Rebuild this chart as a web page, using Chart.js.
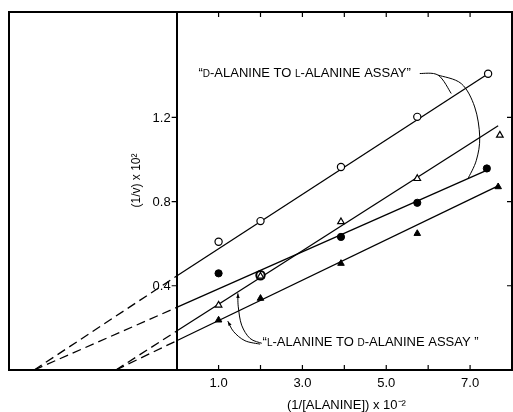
<!DOCTYPE html>
<html>
<head>
<meta charset="utf-8">
<script src="https://cdn.jsdelivr.net/npm/chart.js@4"></script>
<style>
  html, body { margin: 0; padding: 0; background: #fff; }
  canvas { display: block; }
</style>
</head>
<body>
<canvas id="chart" width="513" height="412"></canvas>
<script>
// measured points, x = 1/[alanine] x 10^-2, y = 1/v x 10^2
const openCircleX = [1.0, 2.0, 3.92, 5.74, 7.43];
const openCircleY = [0.609, 0.707, 0.964, 1.202, 1.407];
const filledCircleX = [1.0, 2.0, 3.92, 5.74, 7.40];
const filledCircleY = [0.459, 0.45, 0.632, 0.794, 0.957];
const openTriangleX = [1.0, 2.0, 3.92, 5.74, 7.71];
const openTriangleY = [0.308, 0.445, 0.704, 0.909, 1.115];
const filledTriangleX = [1.0, 2.0, 3.92, 5.74, 7.67];
const filledTriangleY = [0.237, 0.34, 0.506, 0.648, 0.870];

// fitted lines: x intercept (dashed part), y intercept, end of solid part
const fitXIntercept = [-3.4, -3.4, -1.45, -1.45];
const fitYIntercept = [0.446, 0.297, 0.185, 0.139];
const fitEndX = [7.43, 7.42, 7.67, 7.67];
const fitEndY = [1.407, 0.95, 1.16, 0.874];

const xTicks = [1, 2, 3, 4, 5, 6, 7];
const xLabelTicks = [1, 3, 5, 7];
const yTicks = [0.4, 0.8, 1.2];

const pts = (xs, ys) => xs.map((x, i) => ({ x: x, y: ys[i] }));

const font = "'Liberation Sans', Arial, sans-serif";

const fitLines = [];
fitXIntercept.forEach((x0, i) => {
  fitLines.push({
    type: "line",
    data: [{ x: x0, y: 0 }, { x: 0, y: fitYIntercept[i] }],
    borderColor: "#000",
    borderWidth: 1.3,
    borderDash: [9, 5],
    pointRadius: 0,
    showLine: true,
    order: 5,
  });
  fitLines.push({
    type: "line",
    data: [{ x: 0, y: fitYIntercept[i] }, { x: fitEndX[i], y: fitEndY[i] }],
    borderColor: "#000",
    borderWidth: 1.3,
    pointRadius: 0,
    showLine: true,
    order: 5,
  });
});

// the curved pointers and the two captions, in data units
const topCurves = [
  [[5.80, 1.408], [6.24, 1.40], [6.55, 1.313]],
  [[6.24, 1.40], [6.79, 1.36], [7.11, 1.249], [7.23, 1.107], [7.15, 0.996], [6.95, 0.909]],
];
const bottomCurves = [
  [[2.03, 0.127], [1.75, 0.15], [1.55, 0.213], [1.47, 0.30], [1.46, 0.364]],
  [[1.99, 0.123], [1.63, 0.139], [1.36, 0.182], [1.22, 0.232]],
];

const drawCaption = (ctx, x, y, parts) => {
  ctx.textBaseline = "middle";
  ctx.textAlign = "left";
  parts.forEach(([txt, size]) => {
    ctx.font = size + "px " + font;
    ctx.fillText(txt, x, y + (size < 13 ? 1 : 0));
    x += ctx.measureText(txt).width;
  });
};

const drawSpline = (ctx, p) => {
  ctx.beginPath();
  ctx.moveTo(p[0][0], p[0][1]);
  for (let i = 0; i < p.length - 1; i++) {
    const p0 = p[i - 1] || p[i];
    const p1 = p[i];
    const p2 = p[i + 1];
    const p3 = p[i + 2] || p2;
    ctx.bezierCurveTo(
      p1[0] + (p2[0] - p0[0]) / 6, p1[1] + (p2[1] - p0[1]) / 6,
      p2[0] - (p3[0] - p1[0]) / 6, p2[1] - (p3[1] - p1[1]) / 6,
      p2[0], p2[1]
    );
  }
  ctx.stroke();
};

const framePlugin = {
  id: "frame",
  afterDraw(chart) {
    const { ctx, chartArea: a, scales } = chart;
    const X = (v) => scales.x.getPixelForValue(v);
    const Y = (v) => scales.y.getPixelForValue(v);
    ctx.save();
    ctx.strokeStyle = "#000";
    ctx.fillStyle = "#000";
    ctx.lineWidth = 2;
    ctx.beginPath();
    ctx.moveTo(a.left, a.bottom);
    ctx.lineTo(a.left, a.top);
    ctx.lineTo(a.right, a.top);
    ctx.lineTo(a.right, a.bottom);
    ctx.stroke();

    // inward ticks
    ctx.lineWidth = 1.2;
    ctx.beginPath();
    xTicks.forEach((v) => {
      ctx.moveTo(X(v), a.bottom);
      ctx.lineTo(X(v), a.bottom - 5);
      ctx.moveTo(X(v), a.top);
      ctx.lineTo(X(v), a.top + 5);
    });
    yTicks.forEach((v) => {
      ctx.moveTo(a.right, Y(v));
      ctx.lineTo(a.right - 5, Y(v));
      ctx.moveTo(X(0), Y(v));
      ctx.lineTo(X(0) - 5, Y(v));
    });
    ctx.stroke();

    // y tick labels, left of the axis at x = 0
    ctx.font = "13px " + font;
    ctx.textAlign = "right";
    ctx.textBaseline = "middle";
    yTicks.forEach((v) => ctx.fillText(v.toFixed(1), X(0) - 6, Y(v) + 1));

    // x axis title, under the positive part of the axis
    ctx.textAlign = "center";
    ctx.fillText("(1/[ALANINE]) x 10\u207B\u00B2", X(4.05), a.bottom + 35);

    // y axis title, rotated
    ctx.save();
    ctx.translate(X(-0.95), Y(0.9));
    ctx.rotate(-Math.PI / 2);
    ctx.font = "12px " + font;
    ctx.textAlign = "center";
    ctx.textBaseline = "middle";
    ctx.fillText("(1/v) x 10\u00B2", 0, 0);
    ctx.restore();

    // captions
    drawCaption(ctx, X(0.52), Y(1.41), [
      ["\u201C", 13], ["D", 10], ["-ALANINE TO ", 13], ["L", 10], ["-ALANINE ASSAY\u201D", 13],
    ]);
    drawCaption(ctx, X(2.05), Y(0.133), [
      ["\u201C", 13], ["L", 10], ["-ALANINE TO ", 13], ["D", 10], ["-ALANINE ASSAY \u201D", 13],
    ]);

    ctx.lineWidth = 1;
    const toPx = (c) => c.map(([x, y]) => [X(x), Y(y)]);
    topCurves.forEach((c) => drawSpline(ctx, toPx(c)));
    bottomCurves.forEach((c) => {
      const p = toPx(c);
      drawSpline(ctx, p);
      const [ex, ey] = p[p.length - 1];
      const [px, py] = p[p.length - 2];
      const ang = Math.atan2(ey - py, ex - px);
      ctx.beginPath();
      ctx.moveTo(ex, ey);
      ctx.lineTo(ex - 5 * Math.cos(ang - 0.35), ey - 5 * Math.sin(ang - 0.35));
      ctx.lineTo(ex - 5 * Math.cos(ang + 0.35), ey - 5 * Math.sin(ang + 0.35));
      ctx.closePath();
      ctx.fill();
    });
    ctx.restore();
  },
};

new Chart(document.getElementById("chart"), {
  type: "scatter",
  data: {
    datasets: [
      {
        label: "open triangles",
        data: pts(openTriangleX, openTriangleY),
        pointStyle: "triangle",
        pointRadius: 3.8,
        pointBackgroundColor: "#fff",
        pointBorderColor: "#000",
        pointBorderWidth: 1.2,
        order: 1,
      },
      {
        label: "filled triangles",
        data: pts(filledTriangleX, filledTriangleY),
        pointStyle: "triangle",
        pointRadius: 3.8,
        pointBackgroundColor: "#000",
        pointBorderColor: "#000",
        pointBorderWidth: 1,
        order: 1,
      },
      {
        label: "open circles",
        data: pts(openCircleX, openCircleY),
        pointStyle: "circle",
        pointRadius: 3.6,
        pointBackgroundColor: "#fff",
        pointBorderColor: "#000",
        pointBorderWidth: 1.2,
        order: 1,
      },
      {
        label: "filled circles",
        data: pts(filledCircleX, filledCircleY),
        pointStyle: "circle",
        pointRadius: [3.6, 4.2, 3.6, 3.6, 3.6],
        pointBackgroundColor: ["#000", "#fff", "#000", "#000", "#000"],
        pointBorderColor: "#000",
        pointBorderWidth: [1, 2, 1, 1, 1],
        order: 2,
      },
      ...fitLines,
    ],
  },
  options: {
    responsive: false,
    animation: false,
    layout: { autoPadding: false, padding: { left: 9, right: 1, top: 12, bottom: 0 } },
    plugins: { legend: { display: false }, tooltip: { enabled: false } },
    scales: {
      x: {
        type: "linear",
        position: "bottom",
        min: -4,
        max: 8,
        afterFit: (s) => { s.height = 42; s.paddingLeft = 0; s.paddingRight = 0; },
        afterBuildTicks: (s) => { s.ticks = xLabelTicks.map((v) => ({ value: v })); },
        ticks: {
          color: "#000",
          font: { family: font, size: 13 },
          padding: -2,
          maxRotation: 0,
          callback: (v) => v.toFixed(1),
        },
        grid: { display: false },
        border: { display: true, color: "#000", width: 2 },
      },
      y: {
        type: "linear",
        position: { x: 0 },
        min: 0,
        max: 1.7,
        afterFit: (s) => { s.paddingTop = 0; s.paddingBottom = 0; },
        afterBuildTicks: (s) => { s.ticks = yTicks.map((v) => ({ value: v })); },
        ticks: { display: false },
        grid: { display: false },
        border: { display: true, color: "#000", width: 2 },
      },
    },
  },
  plugins: [framePlugin],
});
</script>
</body>
</html>
